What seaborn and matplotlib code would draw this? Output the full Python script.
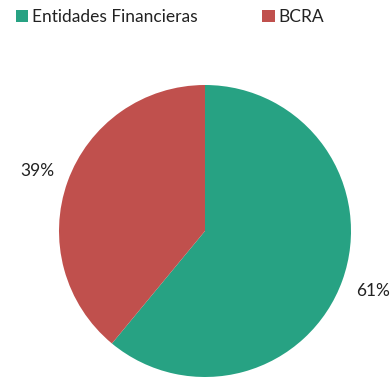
import matplotlib
matplotlib.use("Agg")
import matplotlib.pyplot as plt
from matplotlib.patches import Patch
import seaborn as sns

categories = ["Entidades Financieras", "BCRA"]
shares = [61, 39]
colors = ["#27a283", "#c0504d"]

sns.set_theme(style="white")
plt.rcParams["font.family"] = ["Lato", "DejaVu Sans"]

fig = plt.figure(figsize=(3.91, 3.77), dpi=100)
W, H = 391, 377
r_px = 146
cx, cy = 205, 231
ax = fig.add_axes([(cx - r_px) / W, (H - cy - r_px) / H, 2 * r_px / W, 2 * r_px / H])

wedges, texts, autotexts = ax.pie(
    shares,
    colors=colors,
    startangle=90,
    counterclock=False,
    radius=1,
    autopct=lambda p: f"{p:.0f}%",
    pctdistance=1.22,
    wedgeprops=dict(linewidth=0),
    textprops=dict(fontsize=12.5, color="#222222"),
)
ax.set_xlim(-1, 1)
ax.set_ylim(-1, 1)
ax.set_aspect("equal")
ax.axis("off")

handles = [Patch(facecolor=c, edgecolor="none") for c in colors]
fig.legend(
    handles, categories,
    loc="center left", bbox_to_anchor=(16 / W, 1 - 17 / H),
    ncol=2, frameon=False, fontsize=12.5,
    handlelength=0.7, handleheight=0.7, handletextpad=0.2,
    columnspacing=3.75, borderaxespad=0, borderpad=0,
    labelcolor="#222222",
)

fig.savefig("out.png", dpi=100)
